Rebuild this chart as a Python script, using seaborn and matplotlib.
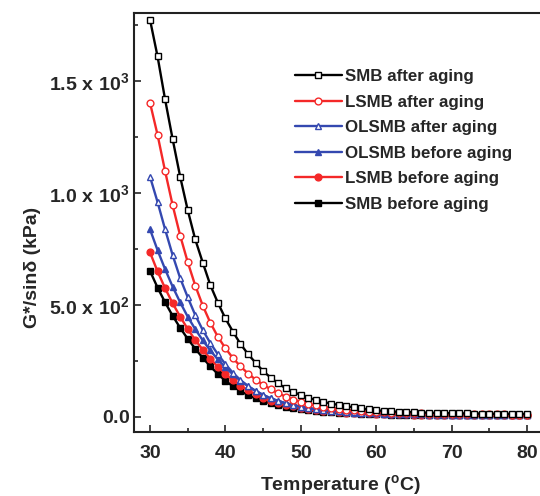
import numpy as np
import pandas as pd
import matplotlib
matplotlib.use("Agg")
import matplotlib.pyplot as plt
from matplotlib.ticker import MultipleLocator, FixedLocator
import seaborn as sns

temperature = list(range(30, 81))

smb_after = [1774, 1610, 1418, 1241, 1073, 924, 793, 689, 589, 510,
             440, 381, 326, 281, 242, 205, 176, 150, 128, 112,
             98, 86, 76, 67, 60, 54, 48, 43, 38, 34,
             30, 27, 25, 23, 22, 21, 20, 19, 18, 17,
             17, 16, 16, 15, 15, 14, 14, 14, 13, 13, 13]
lsmb_after = [1403, 1260, 1098, 946, 810, 692, 587, 497, 421, 358,
              307, 263, 226, 194, 167, 144, 124, 106, 91, 78,
              68, 59, 52, 46, 41, 36, 32, 29, 26, 24,
              22, 21, 19, 18, 17, 16, 16, 15, 15, 14,
              14, 13, 13, 13, 12, 12, 12, 12, 11, 11, 11]
olsmb_after = [1073, 960, 838, 723, 620, 535, 455, 388, 330, 280,
               236, 197, 165, 138, 116, 98, 83, 71, 61, 53,
               46, 40, 35, 31, 28, 25, 23, 21, 19, 18,
               17, 16, 15, 14, 14, 13, 13, 12, 12, 12,
               11, 11, 11, 11, 10, 10, 10, 10, 10, 10, 10]
olsmb_before = [838, 745, 660, 582, 512, 448, 392, 342, 297, 257,
                221, 190, 162, 138, 117, 99, 84, 72, 62, 53,
                46, 40, 35, 31, 28, 25, 22, 20, 19, 17,
                16, 15, 14, 14, 13, 12, 12, 11, 11, 11,
                10, 10, 10, 10, 10, 9, 9, 9, 9, 9, 9]
lsmb_before = [735, 650, 575, 508, 448, 393, 344, 300, 260, 224,
               192, 164, 140, 119, 101, 86, 73, 63, 54, 47,
               41, 36, 32, 28, 25, 22, 20, 18, 17, 16,
               15, 14, 13, 12, 12, 11, 11, 10, 10, 10,
               9, 9, 9, 9, 9, 8, 8, 8, 8, 8, 8]
smb_before = [652, 578, 512, 452, 398, 349, 305, 264, 226, 192,
              162, 137, 116, 98, 83, 71, 61, 52, 45, 39,
              34, 30, 26, 23, 21, 19, 17, 16, 15, 14,
              13, 12, 11, 11, 10, 10, 9, 9, 9, 8,
              8, 8, 8, 8, 7, 7, 7, 7, 7, 7, 7]

labels = ["SMB after aging", "LSMB after aging", "OLSMB after aging",
          "OLSMB before aging", "LSMB before aging", "SMB before aging"]
y_ticks = [0, 500, 1000, 1500]
y_tick_labels = [r"$\mathbf{0.0}$", r"$\mathbf{5.0\ x\ 10^{2}}$",
                 r"$\mathbf{1.0\ x\ 10^{3}}$", r"$\mathbf{1.5\ x\ 10^{3}}$"]
x_ticks = [30, 40, 50, 60, 70, 80]

sns.set_style("ticks")
plt.rcParams["font.family"] = ["Liberation Sans", "DejaVu Sans"]
plt.rcParams["font.weight"] = "bold"
plt.rcParams["mathtext.fontset"] = "custom"
plt.rcParams["mathtext.rm"] = "Liberation Sans:bold"
plt.rcParams["mathtext.bf"] = "Liberation Sans:bold"
plt.rcParams["mathtext.it"] = "Liberation Sans:bold"

BLACK = "#000000"
RED = "#f42828"
BLUE = "#3448b0"

series = [
    (smb_after, BLACK, "s", "white"),
    (lsmb_after, RED, "o", "white"),
    (olsmb_after, BLUE, "^", "white"),
    (olsmb_before, BLUE, "^", BLUE),
    (lsmb_before, RED, "o", RED),
    (smb_before, BLACK, "s", BLACK),
]

W, H = 540, 496
fig = plt.figure(figsize=(W / 100, H / 100), dpi=100)
left_px, right_px, top_px, bottom_px = 134, 544, 12.5, 432
ax = fig.add_axes([left_px / W, (H - bottom_px) / H,
                   (right_px - left_px) / W, (bottom_px - top_px) / H])

for (vals, col, mk, mfc), lab in list(zip(series, labels))[::-1]:
    df = pd.DataFrame({"T": temperature, "G": vals})
    sns.lineplot(data=df, x="T", y="G", ax=ax, color=col, marker=mk,
                 markerfacecolor=mfc, markeredgecolor=col, markersize=4.9,
                 markeredgewidth=1.0, linewidth=1.7, label=lab)

px_per_deg = 7.54
ax.set_xlim(30 - (150 - left_px) / px_per_deg, 30 + (right_px - 150) / px_per_deg)
ax.set_ylim(-67, 1806)

ax.xaxis.set_major_locator(FixedLocator(x_ticks))
ax.xaxis.set_minor_locator(MultipleLocator(5))
ax.yaxis.set_major_locator(FixedLocator(y_ticks))
ax.yaxis.set_minor_locator(MultipleLocator(250))
ax.set_yticklabels(y_tick_labels)
ax.set_xticklabels([str(t) for t in x_ticks])

ax.tick_params(which="major", direction="in", length=5, width=1.2,
               labelsize=14)
ax.tick_params(which="minor", direction="in", length=3, width=1.2)
ax.tick_params(axis="y", which="both", left=True, right=False, pad=3)
ax.tick_params(axis="x", which="both", top=False, bottom=True, pad=9)
for lbl in ax.get_xticklabels() + ax.get_yticklabels():
    lbl.set_fontweight("bold")

for s in ["left", "bottom", "top"]:
    ax.spines[s].set_linewidth(1.5)
    ax.spines[s].set_color("#222222")
ax.spines["right"].set_visible(False)

ax.set_xlabel(r"Temperature ($^{\mathbf{o}}$C)", fontsize=14, fontweight="bold")
ax.set_ylabel("G*/sinδ (kPa)", fontsize=14, fontweight="bold")
ax.xaxis.set_label_coords(0.502, -0.098)
ax.yaxis.set_label_coords(-0.226, 0.393)

handles, labs = ax.get_legend_handles_labels()
order = [labs.index(l) for l in labels]
ax.legend([handles[i] for i in order], [labs[i] for i in order],
          loc="upper left", bbox_to_anchor=((295 - left_px) / (right_px - left_px),
                                            (bottom_px - 69) / (bottom_px - top_px)),
          frameon=False, handlelength=2.75, handletextpad=0.2,
          labelspacing=0.62, borderpad=0, borderaxespad=0,
          prop={"weight": "bold", "size": 12.2})

fig.savefig("out.png", dpi=100)
